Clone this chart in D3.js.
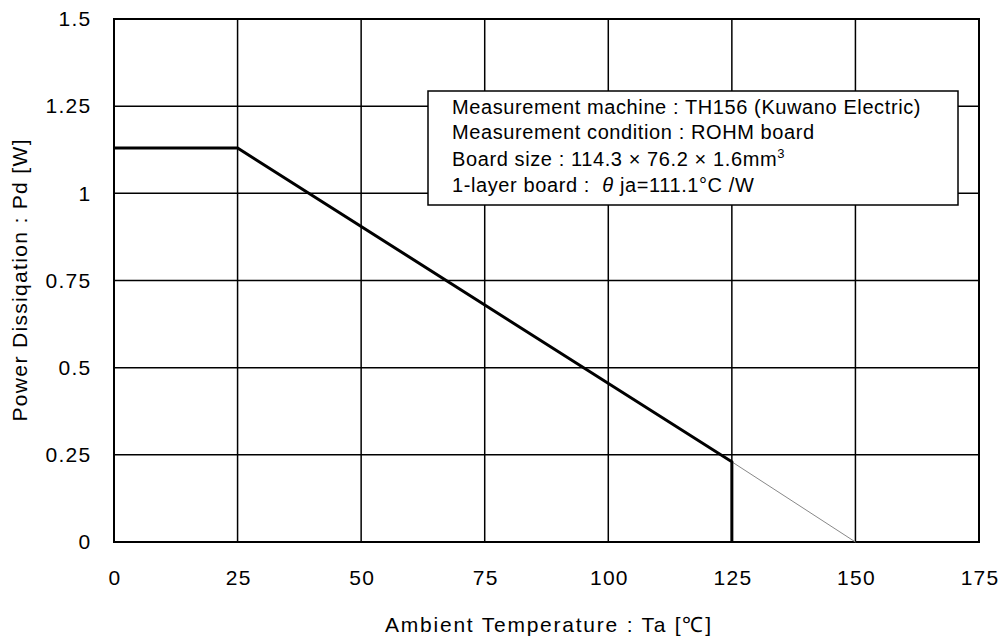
<!DOCTYPE html>
<html>
<head>
<meta charset="utf-8">
<script src="https://cdn.jsdelivr.net/npm/d3@7"></script>
<style>
  body { margin: 0; background: #fff; }
  text { font-family: "Liberation Sans", Arial, sans-serif; fill: #000; }
</style>
</head>
<body>
<svg width="1003" height="637"></svg>
<script>
(() => {
    var width = 1003;
    var height = 637;
    var margin = { top: 19, bottom: 95, left: 114, right: 24 };

    // derating curve (Ta, Pd)
    var tempValues = [0, 25, 125, 125];
    var powerValues = [1.13, 1.13, 0.23, 0];
    // extrapolated thin line to Tjmax
    var extTemp = [125, 150];
    var extPower = [0.23, 0];

    var xTicks = [0, 25, 50, 75, 100, 125, 150, 175];
    var yTicks = [0, 0.25, 0.5, 0.75, 1, 1.25, 1.5];
    var yTickLabels = ["0", "0.25", "0.5", "0.75", "1", "1.25", "1.5"];

    var x = d3.scaleLinear().domain([0, 175]).range([margin.left, width - margin.right]);
    var y = d3.scaleLinear().domain([0, 1.5]).range([height - margin.bottom, margin.top]);

    var svg = d3.select('svg');

    // grid
    svg.append("g").selectAll("line")
        .data(xTicks)
        .enter().append("line")
        .attr("x1", d => x(d)).attr("x2", d => x(d))
        .attr("y1", y(0)).attr("y2", y(1.5))
        .attr("stroke", "#000").attr("stroke-width", 1.5);

    svg.append("g").selectAll("line")
        .data(yTicks)
        .enter().append("line")
        .attr("x1", x(0)).attr("x2", x(175))
        .attr("y1", d => y(d)).attr("y2", d => y(d))
        .attr("stroke", "#000").attr("stroke-width", 1.5);

    // frame
    svg.append("rect")
        .attr("x", x(0)).attr("y", y(1.5))
        .attr("width", x(175) - x(0)).attr("height", y(0) - y(1.5))
        .attr("fill", "none").attr("stroke", "#000").attr("stroke-width", 2);

    // axes (labels only)
    var xAxis = svg.append("g")
        .attr("transform", "translate(0," + y(0) + ")")
        .call(d3.axisBottom(x).tickValues(xTicks).tickSize(0).tickPadding(28).tickFormat(d3.format("d")));
    xAxis.select(".domain").remove();
    xAxis.selectAll("text")
        .attr("font-family", "Liberation Sans, Arial, sans-serif")
        .style("font-size", "21px").style("letter-spacing", "1.3px")
        .attr("dx", "0.6px");

    var yAxis = svg.append("g")
        .attr("transform", "translate(" + x(0) + ",0)")
        .call(d3.axisLeft(y).tickValues(yTicks).tickSize(0).tickPadding(22.5)
            .tickFormat((d, i) => yTickLabels[i]));
    yAxis.select(".domain").remove();
    yAxis.selectAll("text")
        .attr("font-family", "Liberation Sans, Arial, sans-serif")
        .style("font-size", "21px").style("letter-spacing", "1.3px");

    // extrapolation line
    var line = d3.line().x(d => x(d[0])).y(d => y(d[1]));
    svg.append("path")
        .datum(extTemp.map((t, i) => [t, extPower[i]]))
        .attr("d", line)
        .attr("fill", "none").attr("stroke", "#888").attr("stroke-width", 1);

    // derating curve
    svg.append("path")
        .datum(tempValues.map((t, i) => [t, powerValues[i]]))
        .attr("d", line)
        .attr("fill", "none").attr("stroke", "#000").attr("stroke-width", 3)
        .attr("stroke-linejoin", "miter");

    // axis titles
    svg.append("text")
        .attr("x", 548).attr("y", 632)
        .attr("text-anchor", "middle").style("font-size", "21px")
        .attr("textLength", 326).attr("lengthAdjust", "spacing")
        .text("Ambient Temperature : Ta [\u2103]");

    svg.append("text")
        .attr("transform", "translate(27," + ((y(0) + y(1.5)) / 2) + ") rotate(-90)")
        .attr("text-anchor", "middle").style("font-size", "21px")
        .attr("textLength", 282).attr("lengthAdjust", "spacing")
        .text("Power Dissiqation : Pd [W]");

    // note box
    var box = svg.append("g").attr("transform", "translate(428,91)");
    box.append("rect")
        .attr("width", 530).attr("height", 114)
        .attr("fill", "#fff").attr("stroke", "#000").attr("stroke-width", 1.5);

    var lines = box.append("text").style("font-size", "20px").style("letter-spacing", "0.6px")
        .style("white-space", "pre");
    lines.append("tspan").attr("x", 24).attr("y", 23)
        .text("Measurement machine : TH156 (Kuwano Electric)");
    lines.append("tspan").attr("x", 24).attr("y", 48)
        .text("Measurement condition : ROHM board");
    lines.append("tspan").attr("x", 24).attr("y", 75)
        .text("Board size : 114.3 \u00d7 76.2 \u00d7 1.6mm");
    lines.append("tspan").attr("dy", -8).style("font-size", "13px").text("3");
    lines.append("tspan").attr("x", 24).attr("y", 101).text("1-layer board :  ");
    lines.append("tspan").style("font-style", "italic").text("\u03b8");
    lines.append("tspan").text(" ja=111.1\u00b0C /W");
})();
</script>
</body>
</html>
